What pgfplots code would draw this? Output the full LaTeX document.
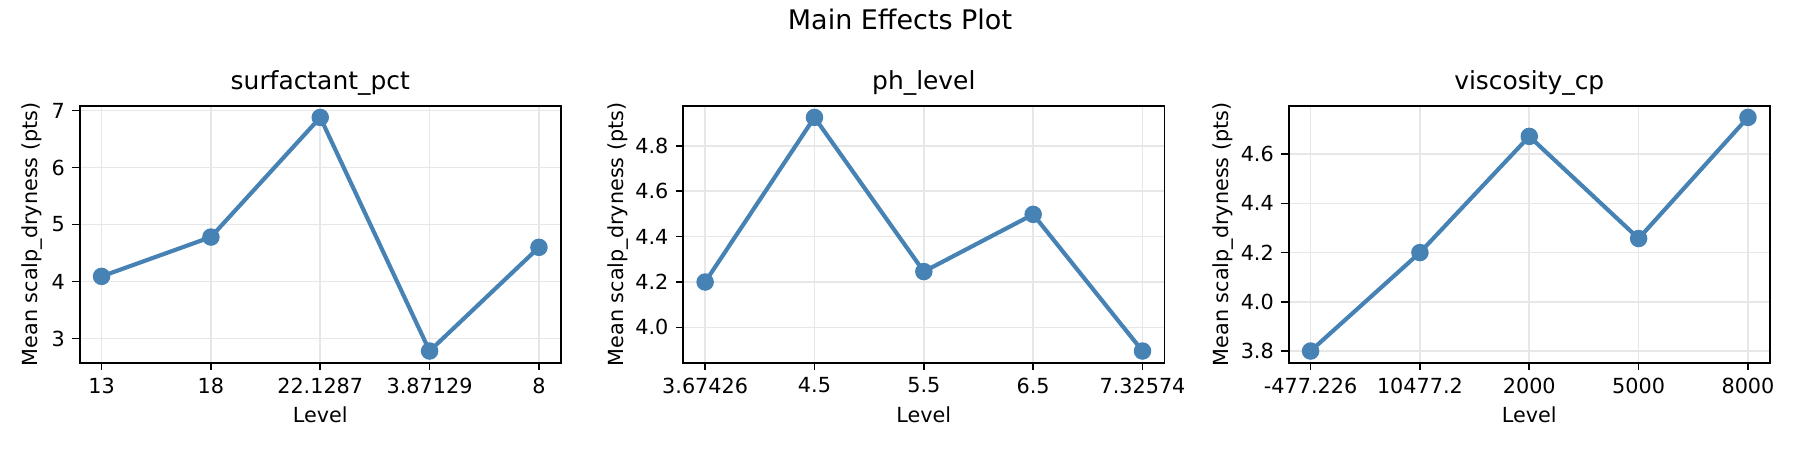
\documentclass[border=0pt]{standalone}
\usepackage{fontspec}
\setmainfont{DejaVu Sans}
\usepackage{pgfplots}
\pgfplotsset{compat=1.18}
\definecolor{steel}{RGB}{70,130,180}
\definecolor{gridc}{RGB}{231,231,231}
\pgfplotsset{me/.style={
  scale only axis, width=231.8pt, height=123.8pt, anchor=south west,
  xmin=-0.2, xmax=4.2, xtick={0,1,2,3,4},
  axis line style={line width=0.8pt, black},
  tick align=outside, major tick length=3.5pt,
  every tick/.style={black, line width=0.8pt},
  xtick pos=bottom, ytick pos=left,
  grid=major, major grid style={gridc, line width=0.8pt},
  tick label style={font=\fontsize{10}{12}\selectfont, inner sep=0pt},
  xticklabel style={anchor=north, yshift=-3.5pt},
  yticklabel style={anchor=east, xshift=-3.5pt},
  /pgf/number format/assume math mode=true,
  every axis title/.style={font=\fontsize{12}{14}\selectfont, at={(axis description cs:0.5,1)}, anchor=base, yshift=8pt},
  every axis x label/.style={font=\fontsize{10}{12}\selectfont, at={(axis description cs:0.5,-0.2318)}, anchor=base},
  every axis y label/.style={font=\fontsize{10}{12}\selectfont, rotate=90, anchor=base},
  xlabel={Level}, ylabel={Mean scalp\_dryness (pts)},
}}
\begin{document}
\begin{tikzpicture}
\useasboundingbox (0,0) rectangle (867.24pt,216.81pt);
\node[anchor=base, font=\fontsize{13}{15}\selectfont] at (433.62pt,202.4pt) {Main Effects Plot};

\begin{axis}[me, at={(38.4pt,42.06pt)},
  title={surfactant\_pct},
  ymin=2.575, ymax=7.085, ytick={3,4,5,6,7},
  xticklabels={13,18,22.1287,3.87129,8},
  ylabel style={at={(axis description cs:-0.088,0.5)}}]
\addplot[steel, line width=2pt, mark=*, mark size=3.2pt, mark options={solid}]
  coordinates {(0,4.09) (1,4.78) (2,6.88) (3,2.78) (4,4.60)};
\end{axis}

\begin{axis}[me, at={(329.2pt,42.06pt)},
  title={ph\_level},
  ymin=3.8446, ymax=4.9765, ytick={4.0,4.2,4.4,4.6,4.8},
  yticklabel style={/pgf/number format/.cd, fixed, fixed zerofill, precision=1},
  xticklabels={3.67426,4.5,5.5,6.5,7.32574},
  ylabel style={at={(axis description cs:-0.1247,0.5)}}]
\addplot[steel, line width=2pt, mark=*, mark size=3.2pt, mark options={solid}]
  coordinates {(0,4.20) (1,4.925) (2,4.246) (3,4.498) (4,3.896)};
\end{axis}

\begin{axis}[me, at={(620.9pt,42.06pt)},
  title={viscosity\_cp},
  ymin=3.7526, ymax=4.7965, ytick={3.8,4.0,4.2,4.4,4.6},
  yticklabel style={/pgf/number format/.cd, fixed, fixed zerofill, precision=1},
  xticklabels={-477.226,10477.2,2000,5000,8000},
  ylabel style={at={(axis description cs:-0.1251,0.5)}}]
\addplot[steel, line width=2pt, mark=*, mark size=3.2pt, mark options={solid}]
  coordinates {(0,3.80) (1,4.20) (2,4.672) (3,4.257) (4,4.749)};
\end{axis}
\end{tikzpicture}
\end{document}
